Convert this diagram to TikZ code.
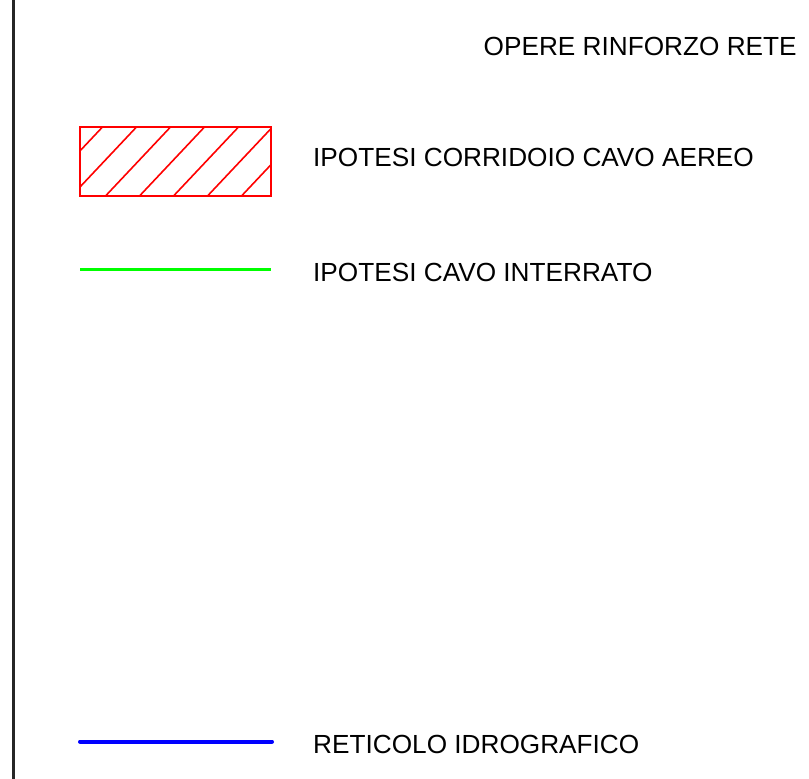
\documentclass[tikz,border=0pt]{standalone}
\usepackage{fontspec}
\setmainfont{Liberation Sans}
\begin{document}
\begin{tikzpicture}[x=1pt,y=-1pt,
    txt/.style={anchor=base west,inner sep=0pt,font=\fontsize{26.2}{31}\selectfont}]
  \useasboundingbox (0,0) rectangle (809,779);
  \draw[line width=2.2pt,black!85] (13.5,0) -- (13.5,779);
  \node[txt] (title) at (483.5,55) {OPERE RINFORZO RETE};
  % aereo
  \coordinate (r0) at (80,127);
  \coordinate (r1) at (271,196);
  \begin{scope}
    \clip (r0) rectangle (r1);
    \foreach \x in {102.5,136.5,...,306.5}
      \draw[red,line width=1.6pt] (\x,127) -- (\x-65,196);
  \end{scope}
  \draw[red,line width=2.6pt] (r0) rectangle (r1);
  \node[txt] (1) at (313,166.7) {IPOTESI CORRIDOIO CAVO AEREO};
  % interrato
  \coordinate (g0) at (80,269.5);
  \coordinate (g1) at (271,269.5);
  \draw[green,line width=3pt] (g0) -- (g1);
  \node[txt] (2) at (313,281.7) {IPOTESI CAVO INTERRATO};
  % idrografico
  \coordinate (b0) at (80,741.5);
  \coordinate (b1) at (272,741.5);
  \draw[blue,line width=4pt,line cap=round] (b0) -- (b1);
  \node[txt] (3) at (313,753.3) {RETICOLO IDROGRAFICO};
\end{tikzpicture}
\end{document}
